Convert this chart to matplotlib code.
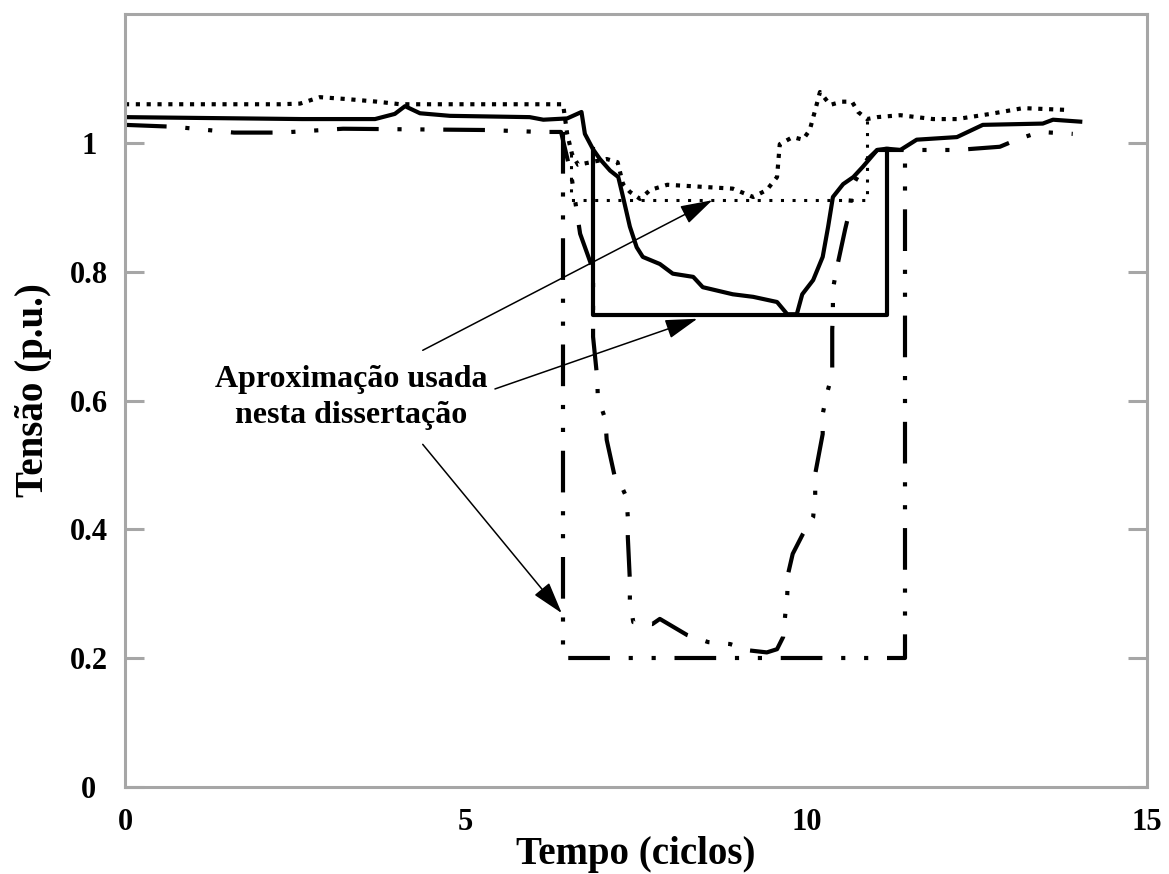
import numpy as np
import matplotlib.pyplot as plt

plt.rcParams['font.family'] = 'serif'
plt.rcParams['font.serif'] = ['Liberation Serif', 'DejaVu Serif']
plt.rcParams['font.weight'] = 'bold'

# fase A (linha cheia)
t_a = [0, 2.6, 3.67, 3.96, 4.11, 4.33, 4.77, 5.94, 6.14, 6.49, 6.70, 6.75, 6.87, 6.97,
       7.12, 7.24, 7.31, 7.41, 7.51, 7.60, 7.85, 8.04, 8.34, 8.48, 8.92, 9.22, 9.57,
       9.72, 9.86, 9.94, 10.10, 10.24, 10.32, 10.39, 10.54, 10.69, 10.83, 11.04, 11.18,
       11.38, 11.62, 12.21, 12.59, 13.47, 13.62, 14.02]
v_a = [1.040, 1.037, 1.037, 1.045, 1.057, 1.046, 1.042, 1.040, 1.036, 1.038, 1.048,
       1.014, 0.990, 0.975, 0.957, 0.947, 0.916, 0.870, 0.838, 0.823, 0.812, 0.797,
       0.792, 0.776, 0.765, 0.761, 0.753, 0.734, 0.734, 0.765, 0.787, 0.823, 0.870,
       0.916, 0.936, 0.947, 0.963, 0.989, 0.991, 0.989, 1.005, 1.009, 1.028, 1.030,
       1.036, 1.033]

# fase B (pontilhada)
t_b = [0, 2.28, 2.57, 2.86, 3.26, 3.70, 4.04, 6.43, 6.49, 6.56, 6.65, 7.07, 7.23, 7.31,
       7.41, 7.56, 7.71, 7.96, 8.92, 9.22, 9.42, 9.57, 9.61, 9.80, 9.95, 10.05, 10.13,
       10.20, 10.35, 10.52, 10.67, 10.76, 10.89, 11.04, 11.38, 11.86, 12.21, 12.70,
       13.18, 13.87]
v_b = [1.060, 1.060, 1.061, 1.071, 1.068, 1.064, 1.060, 1.060, 1.014, 0.983, 0.966,
       0.975, 0.970, 0.936, 0.924, 0.913, 0.927, 0.935, 0.929, 0.916, 0.927, 0.947,
       0.998, 1.009, 1.005, 1.020, 1.051, 1.079, 1.059, 1.064, 1.064, 1.048, 1.037,
       1.040, 1.043, 1.037, 1.037, 1.045, 1.054, 1.051]

# fase C (traço-ponto-ponto)
t_c = [0, 0.73, 1.6, 2.3, 3.2, 5.3, 6.1, 6.4, 6.55, 6.68, 6.87, 6.87, 6.93, 6.94, 7.05,
       7.07, 7.19, 7.24, 7.36, 7.38, 7.38, 7.41, 7.41, 7.46, 7.74, 7.85, 8.25, 8.56,
       8.88, 9.17, 9.42, 9.57, 9.66, 9.69, 9.72, 9.73, 9.80, 9.95, 10.10, 10.13, 10.13,
       10.24, 10.24, 10.30, 10.38, 10.38, 10.39, 10.39, 10.45, 10.57, 10.64, 10.67,
       10.89, 11.04, 11.38, 11.89, 12.21, 12.84, 13.11, 13.43, 13.91]
v_c = [1.028, 1.025, 1.016, 1.016, 1.022, 1.020, 1.017, 1.017, 0.950, 0.859, 0.803,
       0.699, 0.636, 0.605, 0.571, 0.539, 0.481, 0.478, 0.450, 0.419, 0.388, 0.321,
       0.290, 0.256, 0.253, 0.261, 0.236, 0.225, 0.222, 0.212, 0.209, 0.214, 0.233,
       0.267, 0.299, 0.330, 0.362, 0.393, 0.419, 0.453, 0.486, 0.548, 0.579, 0.610,
       0.641, 0.710, 0.734, 0.773, 0.807, 0.866, 0.897, 0.932, 0.974, 0.989, 0.989,
       0.989, 0.989, 0.994, 1.006, 1.017, 1.014]

# aproximações retangulares
ap_a_t = [6.87, 6.87, 11.18, 11.18]
ap_a_v = [0.990, 0.733, 0.733, 0.991]
ap_b_t = [6.55, 6.55, 10.89, 10.89]
ap_b_v = [0.983, 0.911, 0.911, 1.037]
ap_c_t = [6.43, 6.43, 11.45, 11.45]
ap_c_v = [1.017, 0.200, 0.200, 0.990]

xticks = [0, 5, 10, 15]
yticks = [0, 0.2, 0.4, 0.6, 0.8, 1.0]
ytick_labels = ['0', '0.2', '0.4', '0.6', '0.8', '1']

fig = plt.figure(figsize=(11.69, 8.74), dpi=100)
ax = fig.add_axes([0.1069, 0.0995, 0.8743, 0.8844])

dashdotdot = (0, (10, 4.5, 1, 4.5, 1, 4.5))

ax.plot(t_a, v_a, color='black', lw=3, solid_joinstyle='round')
ax.plot(t_b, v_b, color='black', lw=3, linestyle=(0, (1, 1.6)))
ax.plot(t_c, v_c, color='black', lw=3, linestyle=dashdotdot)

ax.plot(ap_a_t, ap_a_v, color='black', lw=3)
ax.plot(ap_b_t, ap_b_v, color='black', lw=2.2, linestyle=(0, (1, 2.8)))
ax.plot(ap_c_t, ap_c_v, color='black', lw=3, linestyle=dashdotdot)

arrow = dict(arrowstyle='-|>,head_length=1.0,head_width=0.3', mutation_scale=20,
             color='black', lw=1.1, shrinkA=0, shrinkB=0)
ax.annotate('', xy=(8.62, 0.911), xytext=(4.37, 0.678), arrowprops=arrow)
ax.annotate('', xy=(8.40, 0.727), xytext=(5.43, 0.618), arrowprops=arrow)
ax.annotate('', xy=(6.41, 0.270), xytext=(4.37, 0.532), arrowprops=arrow)
ax.text(3.32, 0.605, 'Aproximação usada\nnesta dissertação', ha='center', va='center',
        fontsize=23, fontweight='bold', linespacing=1.3)

ax.set_xlim(0, 15)
ax.set_ylim(0, 1.2)
ax.set_xticks(xticks)
ax.set_xticklabels([str(x) for x in xticks])
ax.set_yticks(yticks)
ax.set_yticklabels(ytick_labels)

grey = '#a6a6a6'
for sp in ax.spines.values():
    sp.set_color(grey)
    sp.set_linewidth(2.2)
ax.tick_params(axis='y', direction='in', length=14, width=2.2, color=grey,
               left=True, right=True, labelsize=22, pad=26)
ax.tick_params(axis='x', length=0, labelsize=22, pad=15)
plt.setp(ax.get_yticklabels(), ha='center')

ax.set_xlabel('Tempo (ciclos)', fontsize=28, fontweight='bold')
ax.set_ylabel('Tensão (p.u.)', fontsize=28, fontweight='bold')
ax.xaxis.set_label_coords(0.5, -0.063)
ax.yaxis.set_label_coords(-0.0714, 0.514)

fig.savefig('out.png', dpi=100)
